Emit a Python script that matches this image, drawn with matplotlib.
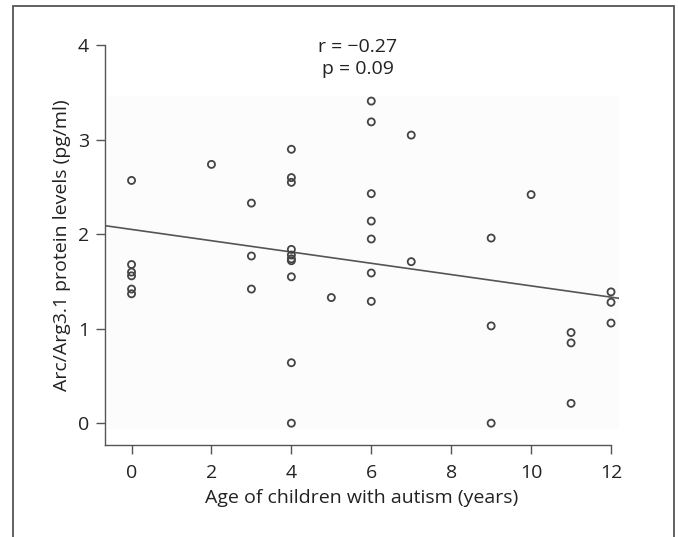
import numpy as np
import matplotlib
matplotlib.use("Agg")
import matplotlib.pyplot as plt
from matplotlib.patches import Rectangle
from matplotlib import font_manager

# ---- data ----
age = [0, 0, 0, 0, 0, 0,
       2,
       3, 3, 3,
       4, 4, 4, 4, 4, 4, 4, 4, 4, 4,
       5,
       6, 6, 6, 6, 6, 6, 6,
       7, 7,
       9, 9, 9,
       10,
       11, 11, 11,
       12, 12, 12]
arc = [2.57, 1.68, 1.60, 1.56, 1.42, 1.37,
       2.74,
       2.33, 1.77, 1.42,
       2.90, 2.60, 2.55, 1.84, 1.78, 1.74, 1.72, 1.55, 0.64, 0.00,
       1.33,
       3.41, 3.19, 2.43, 2.14, 1.95, 1.59, 1.29,
       3.05, 1.71,
       1.96, 1.03, 0.00,
       2.42,
       0.96, 0.85, 0.21,
       1.39, 1.28, 1.06]
xticks = [0, 2, 4, 6, 8, 10, 12]
yticks = [0, 1, 2, 3, 4]
stats_text = ["r = \u22120.27", "p = 0.09"]
xlabel = "Age of children with autism (years)"
ylabel = "Arc/Arg3.1 protein levels (pg/ml)"

# ---- fonts ----
avail = {f.name for f in font_manager.fontManager.ttflist}
fam = [f for f in ["Open Sans", "DejaVu Sans"] if f in avail]
plt.rcParams["font.family"] = fam

FS = 14

fig = plt.figure(figsize=(6.78, 5.37), dpi=100)
ax = fig.add_axes([0.1547, 0.1706, 0.913 - 0.1547, 0.9155 - 0.1706])

xmin, xmax = -0.667, 12.2
ymin, ymax = -0.235, 4.0
ax.set_xlim(xmin, xmax)
ax.set_ylim(ymin, ymax)

# faint plot-area background
ax.add_patch(Rectangle((-0.59, -0.06), 12.2 + 0.59, 3.464 + 0.06,
                       facecolor="#fcfcfc", edgecolor="none", zorder=0))

# regression line computed from data
slope, intercept = np.polyfit(age, arc, 1)
xl = np.array([xmin, xmax])
ax.plot(xl, intercept + slope * xl, color="#555555", lw=1.2, zorder=2)

ax.scatter(age, arc, s=26, facecolors="none", edgecolors="#444444",
           linewidths=1.3, zorder=3, clip_on=False)

ax.text(5.66, 3.98, stats_text[0], ha="center", va="center", fontsize=FS,
        color="#222222", clip_on=False)
ax.text(5.66, 3.75, stats_text[1], ha="center", va="center", fontsize=FS,
        color="#222222", clip_on=False)

for s in ["top", "right"]:
    ax.spines[s].set_visible(False)
ax.spines["left"].set_bounds(ymin, 4)
ax.spines["bottom"].set_bounds(xmin, 12)
for s in ["left", "bottom"]:
    ax.spines[s].set_color("#555555")
    ax.spines[s].set_linewidth(1.0)

ax.set_xticks(xticks)
ax.set_yticks(yticks)
ax.tick_params(axis="both", direction="out", length=6.5, width=1.0,
               color="#555555", labelsize=FS, labelcolor="#222222")
ax.tick_params(axis="x", pad=7)
ax.tick_params(axis="y", pad=5)

ax.set_xlabel(xlabel, fontsize=FS, color="#222222", labelpad=5)
ax.set_ylabel(ylabel, fontsize=FS, color="#222222", labelpad=5)

# outer frame
fig.add_artist(Rectangle((13 / 678, -0.05), (674 - 13) / 678, 1 - 6 / 537 + 0.05,
                         transform=fig.transFigure, facecolor="none",
                         edgecolor="#555555", lw=1.3))

fig.savefig("out.png", dpi=100)
